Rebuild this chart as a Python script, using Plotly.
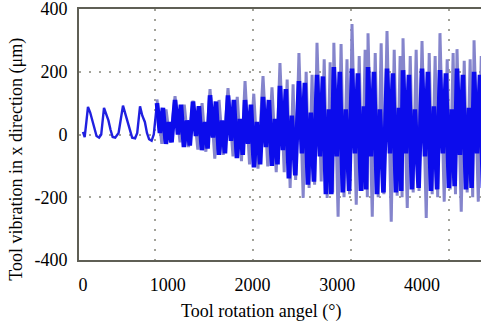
import plotly.graph_objects as go

# ---- data ----
# early, smooth part of the signal: tool rotation angle (deg) / vibration (um)
early_x = [0, 20, 40, 59, 85, 110, 135, 160, 190, 215,
           248, 275, 300, 325, 350, 380, 420,
           472, 500, 530, 555, 580, 615, 640,
           673, 700, 730, 755, 780, 810, 835, 873]
early_y = [8, -8, 40, 88, 70, 45, 20, -5, -10, 0,
           85, 65, 45, 15, -8, -10, 5,
           92, 65, 40, 10, -10, -12, 5,
           90, 60, 40, 5, -15, -20, 0, 100]

# chatter part: dark blue core
core_x = [873, 908, 943, 978, 1013, 1045,
          1086, 1121, 1156, 1191, 1226, 1260,
          1298, 1333, 1368, 1403, 1438, 1470,
          1499, 1534, 1569, 1604, 1639, 1675,
          1711, 1746, 1781, 1816, 1851, 1885,
          1912, 1947, 1982, 2017, 2052, 2090,
          2124, 2159, 2194, 2229, 2264, 2295,
          2324, 2359, 2394, 2429, 2464, 2505,
          2548, 2583, 2618, 2653, 2688, 2725,
          2761, 2796, 2831, 2866, 2901, 2930,
          2960, 2995, 3030, 3065, 3100, 3140,
          3174, 3209, 3244, 3279, 3314, 3340,
          3363, 3398, 3433, 3468, 3503, 3545,
          3587, 3622, 3657, 3692, 3727, 3755,
          3776, 3811, 3846, 3881, 3916, 3960,
          4000, 4035, 4070, 4105, 4140, 4178,
          4212, 4247, 4282, 4317, 4352, 4385,
          4413, 4448, 4483, 4518, 4553, 4585,
          4614, 4649, 4684, 4719]
core_y = [100, 5, 85, -30, 40, -25,
          110, 0, 95, -40, 45, -35,
          105, -5, 90, -50, 40, -45,
          125, -10, 105, -65, 45, -60,
          125, -20, 110, -75, 50, -65,
          110, -30, 95, -105, 40, -95,
          120, -40, 110, -100, 50, -95,
          155, -50, 145, -140, 60, -130,
          170, -60, 165, -160, 70, -150,
          190, -70, 185, -190, 80, -190,
          215, -70, 200, -185, 80, -180,
          210, -60, 195, -180, 90, -175,
          215, -70, 200, -190, 80, -185,
          210, -60, 195, -185, 85, -180,
          205, -60, 190, -175, 80, -170,
          210, -70, 200, -180, 90, -175,
          205, -60, 195, -170, 80, -165,
          210, -65, 190, -175, 85, -170,
          200, -60, 190, -170]

# chatter part: light spikes (extreme excursions)
spike_x = [873, 930, 980, 1030,
           1086, 1145, 1195, 1245,
           1298, 1355, 1405, 1450,
           1499, 1555, 1605, 1655,
           1711, 1770, 1820, 1870,
           1912, 1965, 2015, 2065,
           2124, 2180, 2230, 2280,
           2324, 2374, 2409, 2444, 2479, 2509,
           2548, 2598, 2633, 2668, 2703, 2733,
           2761, 2811, 2846, 2881, 2916, 2946,
           2960, 3010, 3045, 3080, 3115, 3145,
           3174, 3224, 3259, 3294, 3329, 3355,
           3363, 3413, 3448, 3483, 3518, 3550,
           3587, 3637, 3672, 3707, 3742, 3765,
           3776, 3826, 3861, 3896, 3931, 3965,
           4000, 4050, 4085, 4120, 4155, 4185,
           4212, 4262, 4297, 4332, 4367, 4395,
           4413, 4463, 4498, 4533, 4568, 4598,
           4614, 4664, 4699, 4734]
spike_y = [112, -30, 80, -25,
           122, -25, 95, -40,
           108, -48, 100, -55,
           145, -77, 110, -65,
           148, -70, 120, -85,
           170, -95, 130, -109,
           186, -102, 150, -120,
           228, -120, 175, -170, 160, -145,
           260, -202, 200, -170, 190, -160,
           292, -150, 240, -202, 230, -185,
           292, -262, 288, -200, 240, -190,
           352, -224, 250, -180, 270, -200,
           323, -262, 260, -200, 291, -190,
           330, -278, 270, -195, 250, -200,
           307, -234, 250, -185, 270, -180,
           298, -266, 260, -190, 250, -200,
           323, -214, 240, -175, 260, -190,
           272, -246, 235, -185, 240, -200,
           300, -214, 250, -190]

x_ticks = [0, 1000, 2000, 3000, 4000]
x_labels = ["0", "1000", "2000", "3000", "4000"]
grid_x = [1000, 2000, 3000, 4000]
y_ticks = [-400, -200, 0, 200, 400]
y_labels = ["-400", "-200", "0", "200", "400"]

FONT = "Liberation Serif"

fig = go.Figure()
fig.add_trace(go.Scatter(x=spike_x, y=spike_y, mode="lines",
                         line=dict(color="#8585cc", width=3),
                         hoverinfo="skip", showlegend=False))
fig.add_trace(go.Scatter(x=early_x, y=early_y, mode="lines",
                         line=dict(color="#2020e0", width=2.4),
                         hoverinfo="skip", showlegend=False))
fig.add_trace(go.Scatter(x=core_x, y=core_y, mode="lines",
                         line=dict(color="#0c0cec", width=4.6),
                         hoverinfo="skip", showlegend=False))
fig.add_trace(go.Scatter(x=[], y=[], xaxis="x2", showlegend=False, hoverinfo="skip"))

fig.update_layout(
    width=481, height=326,
    margin=dict(l=79, r=0, t=9, b=66),
    paper_bgcolor="white", plot_bgcolor="white",
    font=dict(family=FONT, size=18, color="black"),
    xaxis=dict(range=[-47, 4696], tickvals=x_ticks, ticktext=x_labels,
               showgrid=False, zeroline=False, showline=True, mirror=True,
               linecolor="#5f5f55", linewidth=2, automargin=False,
               ticks="", ticklabelstandoff=7, ticklabeloverflow="allow",
               tickfont=dict(family=FONT, size=18, color="black")),
    xaxis2=dict(range=[224.5, 4326.5], overlaying="x", anchor="y",
                tickvals=grid_x, showticklabels=False, showgrid=True,
                gridcolor="#a3a39a", gridwidth=2, griddash="2px,8px",
                zeroline=False, showline=False, ticks=""),
    yaxis=dict(range=[-400, 400], tickvals=y_ticks, ticktext=y_labels,
               showgrid=True,
               gridcolor="#a3a39a", gridwidth=2, griddash="2px,8px",
               zeroline=False, showline=True, mirror=False,
               linecolor="#5f5f55", linewidth=2, automargin=False,
               ticks="", ticklabelstandoff=6, ticklabeloverflow="allow",
               tickfont=dict(family=FONT, size=18, color="black")),
    annotations=[
        dict(text="Tool rotation angel (°)", xref="paper", yref="paper",
             x=0.453, y=-0.207, xanchor="center", yanchor="middle",
             showarrow=False, font=dict(family=FONT, size=18)),
        dict(text="Tool vibration in x direction (μm)", xref="paper", yref="paper",
             x=-0.154, y=0.40, xanchor="center", yanchor="middle", textangle=-90,
             showarrow=False, font=dict(family=FONT, size=18)),
    ],
)

fig.write_html("out.html", config={"displayModeBar": False},
               post_script="document.body.style.margin='0px';document.body.style.overflow='hidden';")
